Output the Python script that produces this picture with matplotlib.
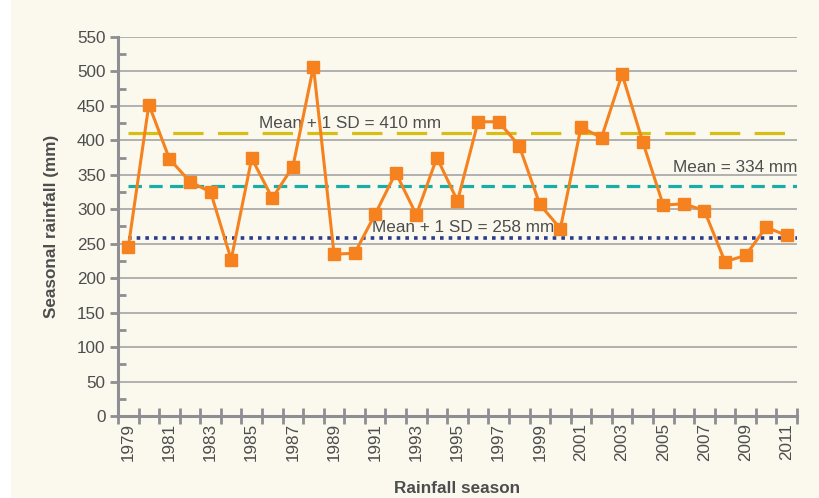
import matplotlib.pyplot as plt
from matplotlib.patches import Rectangle
import numpy as np

plt.rcParams['font.family'] = ['Liberation Sans', 'DejaVu Sans']
FONT_SIZE = 12.3

# Rainfall seasons and seasonal rainfall (mm)
seasons = list(range(1979, 2012))
rainfall = [245, 452, 373, 340, 325, 227, 374, 316, 362, 507,
            235, 236, 293, 353, 292, 375, 312, 427, 427, 392,
            307, 272, 419, 404, 496, 398, 306, 308, 298, 224,
            233, 274, 262]

# Reference lines
mean_plus_sd = 410
mean_value = 334
mean_minus_sd = 258

BG = '#FBF9EE'
TXT = '#4D4D4D'
AXC = '#8E8E93'

fig = plt.figure(figsize=(8.2, 4.98), dpi=100)
fig.patch.set_facecolor('white')
fig.patches.append(Rectangle((11 / 820, 0), 1, 1, transform=fig.transFigure,
                             facecolor=BG, edgecolor='none', zorder=-10))
ax = fig.add_axes([118 / 820, 1 - 416 / 498, (797 - 118) / 820, (416 - 37) / 498])
ax.set_facecolor(BG)

x = np.arange(len(seasons))

# gridlines
for v in range(50, 551, 50):
    ax.axhline(v, color='#ABABAB', lw=1.3, zorder=1)

# mean lines
ax.hlines(mean_plus_sd, 0, len(seasons) - 0.5, color='#D6BE14', lw=2.3,
          linestyle=(0, (9.5, 4.5)), zorder=2)
ax.hlines(mean_value, 0, len(seasons) - 0.5, color='#19ADA8', lw=2.3,
          linestyle=(0, (4.2, 2.3)), zorder=2)
ax.hlines(mean_minus_sd, 0, len(seasons) - 0.5, color='#2B3C8E', lw=2.6,
          linestyle=(0, (1.0, 1.4)), zorder=2)

ax.plot(x, rainfall, color='#F5821F', lw=2.2, marker='s', markersize=8.5,
        zorder=4)

ax.text(10.8, 425, f'Mean + 1 SD = {mean_plus_sd} mm', ha='center', va='center',
        fontsize=FONT_SIZE, color=TXT, zorder=3)
ax.text(len(seasons) - 0.5, 361, f'Mean = {mean_value} mm', ha='right', va='center',
        fontsize=FONT_SIZE, color=TXT, zorder=3)
ax.text(11.85, 273, f'Mean + 1 SD = {mean_minus_sd} mm', ha='left', va='center',
        fontsize=FONT_SIZE, color=TXT, zorder=3)

ax.set_xlim(-0.5, len(seasons) - 0.5)
ax.set_ylim(0, 550)

for s in ['top', 'right']:
    ax.spines[s].set_visible(False)
for s in ['left', 'bottom']:
    ax.spines[s].set_color(AXC)
    ax.spines[s].set_linewidth(2.2)
    ax.spines[s].set_zorder(5)

ax.set_yticks(range(0, 551, 50))
ax.set_yticks(range(25, 551, 50), minor=True)
ax.tick_params(axis='y', which='major', direction='out', length=6, width=2,
               color=AXC, labelsize=FONT_SIZE, labelcolor=TXT, pad=3)
ax.tick_params(axis='y', which='minor', direction='in', length=6, width=2,
               color=AXC)

ax.set_xticks(x[::2])
ax.set_xticklabels([str(s) for s in seasons[::2]], rotation=90)
ax.set_xticks(np.arange(-0.5, len(seasons), 1.0), minor=True)
ax.tick_params(axis='x', which='major', length=0, labelsize=FONT_SIZE,
               labelcolor=TXT, pad=5)
ax.tick_params(axis='x', which='minor', direction='inout', length=12, width=2,
               color=AXC)

ax.set_ylabel('Seasonal rainfall (mm)', fontsize=FONT_SIZE, fontweight='bold',
              color=TXT, labelpad=13)
ax.set_xlabel('Rainfall season', fontsize=FONT_SIZE, fontweight='bold',
              color=TXT, labelpad=14)

fig.savefig('out.png', dpi=100, facecolor=fig.get_facecolor())
